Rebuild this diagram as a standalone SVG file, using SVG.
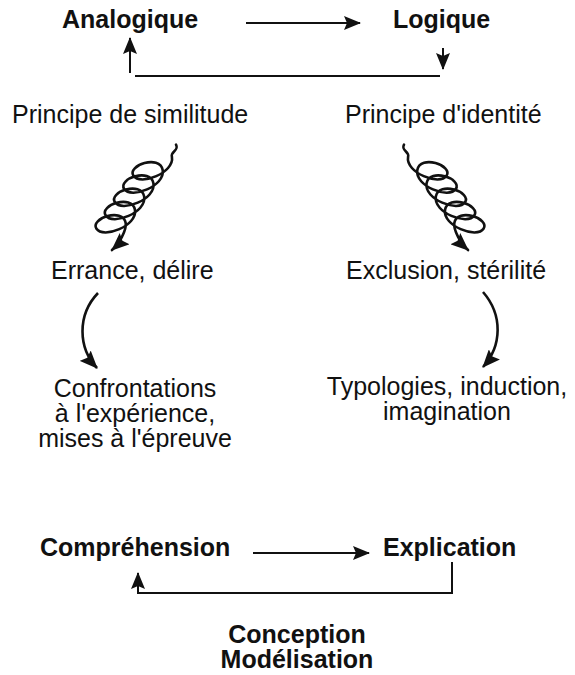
<svg xmlns="http://www.w3.org/2000/svg" width="575" height="675" viewBox="0 0 575 675">
<style>
.t{font-family:"Liberation Sans",Arial,sans-serif;font-size:25px;fill:#111}
.b{font-weight:bold}
.ln{fill:none;stroke:#111;stroke-width:2}
.sp{fill:none;stroke:#111;stroke-width:2.6;stroke-linecap:round}
.cv{fill:none;stroke:#111;stroke-width:2.6}
</style>
<defs>
<marker id="ah" viewBox="0 0 17 14" refX="16" refY="7" markerWidth="17" markerHeight="14" markerUnits="userSpaceOnUse" orient="auto">
<path d="M0,0 L17,7 L0,14 L3,7 z" fill="#111"/>
</marker>
<marker id="ahs" viewBox="0 0 18 15" refX="17" refY="7.5" markerWidth="18" markerHeight="15" markerUnits="userSpaceOnUse" orient="auto">
<path d="M0,0 L18,7.5 L0,15 L3,7.5 z" fill="#111"/>
</marker>
<g id="spiral">
<g transform="translate(155,163) rotate(-20)">
<path class="sp" marker-end="url(#ahs)" d="M 26 -10 C 27 -3 18.5 -6 18 0 c -2.805 15.97 -39.805 16.675 -42.61 4.645 c -2.805 -12.03 32.195 -11.325 29.39 4.645 c -2.805 15.97 -39.805 16.675 -42.61 4.645 c -2.805 -12.03 32.195 -11.325 29.39 4.645 c -2.805 15.97 -39.805 16.675 -42.61 4.645 c -2.805 -12.03 32.195 -11.325 29.39 4.645 c -2.805 15.97 -39.805 16.675 -42.61 4.645 c -2.805 -12.03 32.195 -11.325 29.39 4.645 c -2.805 15.97 -39.805 16.675 -42.61 4.645 c -2.805 -12.03 32.195 -11.325 29.39 4.645 c -1.5 7 -13 17 -22.1 20.6"/>
</g>
</g>
</defs>

<g id="connectors">
<path class="ln" marker-end="url(#ah)" d="M246 23 H360"/>
<path class="ln" marker-end="url(#ah)" d="M130 73 V38"/>
<path class="ln" d="M135 76 H440"/>
<path class="ln" marker-end="url(#ah)" d="M443 48 V69"/>
<use href="#spiral"/>
<use href="#spiral" transform="translate(580,0) scale(-1,1)"/>
<path class="cv" marker-end="url(#ahs)" d="M98 293 C77 315 78 348 97 368"/>
<path class="cv" marker-end="url(#ahs)" d="M483 292 C503 315 502 346 483 367"/>
<path class="ln" marker-end="url(#ah)" d="M253 553 H369"/>
<path class="ln" marker-end="url(#ah)" d="M452 562 V593 H138 V573"/>
</g>

<g id="analogique"><text class="t b" x="62" y="28">Analogique</text></g>
<g id="logique"><text class="t b" x="393" y="28">Logique</text></g>
<g id="similitude"><text class="t" x="12" y="123">Principe de similitude</text></g>
<g id="identite"><text class="t" x="345" y="123">Principe d'identité</text></g>
<g id="errance"><text class="t" x="51" y="279">Errance, délire</text></g>
<g id="exclusion"><text class="t" x="346" y="279">Exclusion, stérilité</text></g>
<g id="confrontations"><text class="t" text-anchor="middle" x="135" y="397">Confrontations<tspan x="135" y="422">à l'expérience,</tspan><tspan x="135" y="447">mises à l'épreuve</tspan></text></g>
<g id="typologies"><text class="t" text-anchor="middle" x="447" y="395">Typologies, induction,<tspan x="447" y="420">imagination</tspan></text></g>
<g id="comprehension"><text class="t b" x="40" y="556">Compréhension</text></g>
<g id="explication"><text class="t b" x="383" y="556">Explication</text></g>
<g id="conception"><text class="t b" text-anchor="middle" x="297" y="643">Conception<tspan x="297" y="668">Modélisation</tspan></text></g>
</svg>
